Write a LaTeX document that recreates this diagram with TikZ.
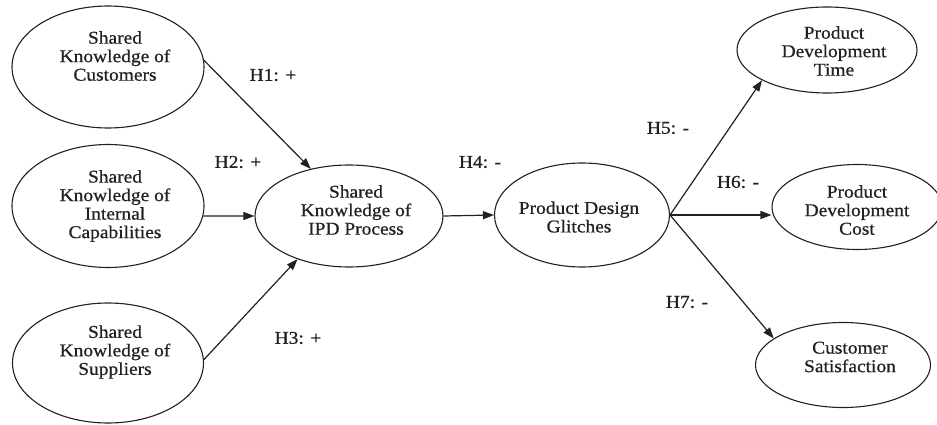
\documentclass[tikz,border=0pt]{standalone}
\usepackage{fontspec}
\setmainfont{Liberation Serif}[FakeStretch=1.08,FakeBold=0.7]
\usetikzlibrary{shapes.geometric,arrows.meta}
\definecolor{ink}{gray}{0.13}
\begin{document}
\begin{tikzpicture}[x=1pt,y=-1pt,
  construct/.style={ellipse,draw=ink,line width=1.1pt,inner sep=0pt},
  caption/.style={text=ink,align=center,font=\fontsize{18}{18.5}\selectfont,xshift=7pt},
  hyp/.style={text=ink,font=\fontsize{18}{18}\selectfont,inner sep=0pt},
  path/.style={draw=ink,line width=1.2pt,-{Triangle[length=11pt,width=8pt]}}]
\useasboundingbox[fill=white] (0,0) rectangle (937,425);

% antecedent constructs
\node[construct,minimum width=192pt,minimum height=122pt,
  label={[caption,yshift=11pt]center:Shared\\Knowledge of\\Customers}] (cust) at (108,67) {};
\node[construct,minimum width=192pt,minimum height=123pt,
  label={[caption]center:Shared\\Knowledge of\\Internal\\Capabilities}] (intl) at (108,206) {};
\node[construct,minimum width=191pt,minimum height=120pt,
  label={[caption,yshift=11pt]center:Shared\\Knowledge of\\Suppliers}] (supp) at (108,363) {};

% mediating constructs
\node[construct,minimum width=188pt,minimum height=102pt,
  label={[caption,yshift=6pt]center:Shared\\Knowledge of\\IPD Process}] (ipd) at (349,216) {};
\node[construct,minimum width=175pt,minimum height=104pt,
  label={[caption,yshift=-2pt,xshift=-10pt]center:Product Design\\Glitches}] (glit) at (582,215) {};

% outcome constructs
\node[construct,minimum width=180pt,minimum height=86pt,
  label={[caption,yshift=-1pt]center:Product\\Development\\Time}] (time) at (827,50) {};
\node[construct,minimum width=170pt,minimum height=85pt,
  label={[caption,yshift=-3pt,xshift=-7pt]center:Product\\Development\\Cost}] (cost) at (857,207) {};
\node[construct,minimum width=175pt,minimum height=85pt,
  label={[caption,yshift=8pt]center:Customer\\Satisfaction}] (sat) at (843,365) {};

% hypothesised paths
\draw[path] (cust.4) -- (ipd.129);
\draw[path] (intl.-6) -- (ipd.west);
\draw[path] (supp.2) -- (ipd.220);
\draw[path] (ipd.east) -- (glit.west);
\draw[path] (glit.east) -- (time.205);
\draw[path] (glit.east) -- (glit.east -| cost.west);
\draw[path] (glit.east) -- (sat.159);

% hypothesis labels
\node[hyp] (h1) at (273,75) {H1: +};
\node[hyp] (h2) at (238,162) {H2: +};
\node[hyp] (h3) at (298,338) {H3: +};
\node[hyp] (h4) at (480,162) {H4: -};
\node[hyp] (h5) at (668,128) {H5: -};
\node[hyp] (h6) at (738,182) {H6: -};
\node[hyp] (h7) at (687,302) {H7: -};
\end{tikzpicture}
\end{document}
